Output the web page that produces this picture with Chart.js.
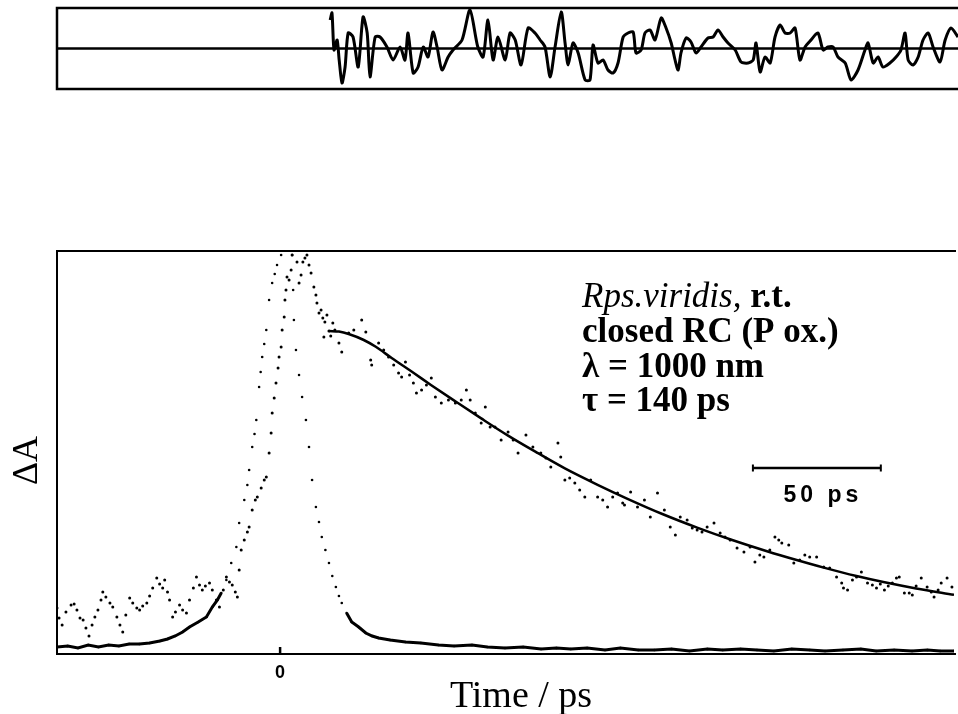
<!DOCTYPE html>
<html>
<head>
<meta charset="utf-8">
<title>Rps. viridis, closed RC, 1000 nm</title>
<script src="https://cdn.jsdelivr.net/npm/chart.js@4.4.1/dist/chart.umd.min.js"></script>
<style>
  body { margin: 0; background: #fff; }
  #resid { position: absolute; left: 0; top: 0; }
  #kin { position: absolute; left: 0; top: 100px; }
</style>
</head>
<body>
<canvas id="resid" width="958" height="100"></canvas>
<canvas id="kin" width="958" height="614"></canvas>
<script>
// time axis in ps, signal in arbitrary units (0..100 covers the frame)
const timeRange = [-87.2, 263.4];
const signalRange = [0, 100.75];
const residRange = [-4.05, 4.05];
const xTicks = [0];
const scaleBar = [184.8, 234.8]; // 50 ps
const scaleBarLevel = 46.5;
const infoLines = ['closed RC (P ox.)', 'λ = 1000 nm', 'τ = 140 ps'];

// [time, residual]
const residuals = [
  [19.1, 2.85], [19.8, 3.55], [20.6, -0.15], [21.8, 0.85], [22.6, -1.15], [23.7, -3.45],
  [24.9, -1.85], [26.1, 1.55], [28.0, 1.15], [30.0, -1.85], [31.9, 3.15], [33.5, 1.55],
  [34.6, -2.85], [36.6, 1.15], [38.5, 1.15], [41.2, 0.15], [43.6, -1.15], [46.3, 0.15],
  [48.2, -1.15], [49.4, 1.55], [51.4, -2.45], [53.3, -1.85], [55.3, 0.15], [57.2, -0.85],
  [59.1, 1.65], [60.7, 0.15], [62.6, -2.15], [65.0, -0.85], [66.9, -0.15], [70.4, 0.85],
  [73.5, 3.85], [76.5, 0.2], [78.6, -0.85], [80.5, 2.85], [82.5, -1.15], [84.4, 1.15],
  [87.2, -1.15], [89.1, 1.55], [91.1, 0.85], [93.4, -1.65], [96.1, 2.05], [98.8, 1.55],
  [100.8, 0.85], [102.7, 0.15], [104.7, -2.85], [106.6, 0.15], [109.0, 3.65], [110.5, 0.55],
  [111.7, -1.65], [113.6, 0.55], [115.6, -0.45], [118.3, -3.15], [120.2, -3.15], [121.4, 0.35],
  [123.3, -1.45], [125.3, -1.15], [127.2, -2.15], [129.2, -2.45], [131.1, -1.45], [133.1, 1.15],
  [135.0, 1.55], [137.0, 1.65], [138.1, -0.45], [140.1, -0.15], [141.6, 1.55], [143.6, 1.85],
  [145.5, 0.85], [147.9, 3.05], [149.8, 2.05], [151.8, 0.55], [153.3, -1.15], [154.5, -2.15],
  [155.6, -0.45], [157.6, 1.05], [159.5, 0.65], [161.5, -0.45], [163.4, 0.15], [166.1, 1.05],
  [168.1, 1.15], [170.0, 1.85], [172.0, 1.15], [173.9, 0.55], [176.7, -0.15], [179.0, -1.35],
  [181.7, -1.45], [183.7, -1.15], [184.8, 0.55], [186.4, -2.35], [188.3, -0.85], [190.3, -1.45],
  [192.2, 1.15], [194.2, 2.35], [196.1, 1.55], [198.1, 1.55], [200.0, 2.05], [201.9, -1.15],
  [203.9, 0.15], [206.2, 0.85], [208.9, 1.55], [210.9, -0.15], [212.8, 0.15], [214.8, 0.15],
  [216.7, -0.85], [219.5, -1.45], [221.8, -3.15], [224.5, -2.15], [227.2, -0.15], [228.4, 0.55],
  [230.4, -1.45], [232.3, -0.85], [234.2, -1.85], [236.9, -1.45], [239.3, -0.85], [241.2, -0.15],
  [242.8, 1.55], [244.0, -1.15], [245.9, -1.65], [247.9, -0.85], [249.8, 0.85], [251.8, 1.55],
  [253.7, 0.15], [256.4, -1.35], [258.4, 0.85], [260.7, 2.05], [263.4, 1.15]
];

// [time, signal] instrument response
const irf = [
  [-87.2, 1.75], [-83, 2.0], [-79, 1.5], [-75, 2.25], [-71, 1.75], [-67, 2.25], [-63, 2.0],
  [-59, 2.5], [-55, 2.5], [-51, 2.75], [-47, 3.25], [-44, 3.75], [-41, 4.5], [-38.1, 5.5],
  [-35.4, 6.75], [-32, 8.0], [-28.8, 9.25], [-26.5, 11.75], [-24.5, 13.5], [-23.0, 15.25],
  [-21.0, 18.5], [-19.1, 22.75], [-17.1, 26.75], [-16.0, 32.75], [-14.0, 38.5], [-12.8, 42.25],
  [-12.1, 46], [-10.9, 51.75], [-10.0, 55], [-9.3, 58.5], [-8.2, 66.75], [-7.6, 70.5],
  [-7.0, 74.25], [-6.2, 77.5], [-5.4, 81], [-4.3, 88.5], [-3.1, 92.75], [-2.1, 95],
  [-1.2, 97.25], [0.4, 99.75], [1.9, 105], [3.5, 107], [4.7, 99.75], [5.1, 91], [5.4, 83.5],
  [6.2, 76], [7.4, 69.75], [8.6, 64.25], [10.1, 58.5], [11.3, 51.75], [12.5, 43.5],
  [14.0, 36.75], [15.2, 33], [16.3, 29.25], [17.7, 26], [19.1, 22.75], [20.4, 19.5],
  [21.8, 16.75], [23.0, 14.5], [24.1, 12.75], [26.0, 10.25], [28.0, 8], [30.7, 6.75],
  [33.5, 5.25], [36, 4.5], [38.5, 4], [43, 3.5], [49, 3], [55, 2.75], [61.9, 2.25], [68, 2.0],
  [75, 2.25], [81, 1.75], [87.9, 1.5], [95, 1.75], [102, 1.25], [108, 1.5], [113.6, 1.25],
  [120, 1.5], [127, 1.0], [133, 1.5], [140, 1.0], [146.3, 1.0], [153, 1.25], [160, 0.75],
  [167, 1.25], [173, 1.0], [180, 1.25], [186.4, 1.0], [193, 0.75], [200, 1.25], [207, 1.0],
  [213, 0.75], [220, 1.0], [227, 1.25], [233, 0.75], [240, 1.0], [247, 0.75], [253, 1.0],
  [258, 0.75], [263.4, 0.75]
];

// [time, signal] measured kinetics
const kinetics = [
  [-87.2, 11.5], [-86.4, 9], [-85.2, 7.25], [-83.7, 10.5], [-81.7, 12.25], [-80.5, 12.5],
  [-79.4, 11], [-78.2, 9], [-77.0, 8.5], [-75.9, 6.5], [-74.7, 4.5], [-73.5, 7.25],
  [-72.4, 9.25], [-71.2, 11], [-70.0, 13.5], [-69.3, 15.5], [-68.1, 14.25], [-66.5, 12.75],
  [-65.4, 11.75], [-63.8, 9.25], [-62.6, 7.25], [-61.5, 5.5], [-60.3, 9.75], [-58.8, 14],
  [-57.6, 12.75], [-56.0, 11.5], [-54.9, 11], [-53.7, 12], [-52.1, 12.75], [-51.0, 14.5],
  [-49.8, 16.5], [-48.2, 19], [-47.1, 17.5], [-45.9, 16.5], [-45.1, 18.5], [-44.0, 15.5],
  [-43.2, 13.5], [-42.0, 9.25], [-40.9, 10.5], [-39.3, 12.25], [-38.1, 11], [-36.6, 10.25],
  [-35.4, 13.5], [-33.9, 16.5], [-32.7, 19.25], [-31.5, 17.25], [-30.4, 16], [-29.2, 17],
  [-27.6, 17.75], [-26.5, 16], [-24.9, 13.5], [-23.7, 11.75], [-22.2, 16], [-21.0, 19.25],
  [-19.8, 18], [-18.7, 17.25], [-17.5, 15.5], [-16.7, 14.25],
  [-16.0, 21], [-15.2, 26], [-14.0, 28.5], [-12.8, 30.5], [-12.1, 31.75], [-10.9, 36],
  [-9.7, 38.5], [-8.9, 39.25], [-7.4, 41.5], [-6.2, 43.5], [-5.4, 44.25], [-4.3, 50.25],
  [-3.5, 55.25], [-3.1, 60.25], [-2.3, 64], [-1.6, 67.75], [-0.8, 71.5], [-0.4, 74.25],
  [0.4, 76.75], [0.8, 81], [1.6, 84.25], [1.9, 88.5], [2.3, 91], [2.7, 94.25], [3.5, 93.5],
  [4.3, 96], [4.7, 99.75], [5.4, 101.5], [6.6, 98], [7.4, 92.75], [8.2, 94.75], [8.9, 98],
  [9.7, 99], [10.5, 99.75], [11.3, 97.25], [12.1, 95.25], [13.2, 91.75], [14.0, 89.75],
  [14.4, 87.75], [15.2, 85.25], [16.0, 86], [16.7, 84], [17.1, 79.25], [17.5, 83],
  [18.3, 84.75], [19.1, 80.75], [19.8, 79.5], [20.6, 82.75], [21.4, 81], [23.0, 77.75],
  [24.1, 75.5], [26.8, 80.25], [28.8, 81], [31.9, 83.5], [33.5, 80.5], [35.4, 73.5],
  [35.8, 72.25], [38.5, 77.75], [40.5, 76], [42.4, 74.25], [44.4, 72.25], [46.3, 70.25],
  [47.5, 69.25], [49.0, 73], [50.6, 69.75], [52.1, 67.75], [53.3, 65.25], [55.3, 66],
  [57.2, 67.25], [59.1, 69], [60.7, 64.25], [63.0, 62.75], [65.8, 63.5], [68.5, 62.75],
  [70.8, 63.5], [72.8, 66], [74.3, 63.5], [76.3, 60.25], [78.6, 57.75], [80.2, 61.75],
  [82.1, 56.75], [84.0, 56.75], [86.4, 53.5], [89.1, 55.5], [91.1, 53.5], [93.0, 50.25],
  [96.1, 54.75], [98.8, 51.75], [101.9, 50.25], [103.9, 49], [105.8, 46.75], [108.6, 52.75],
  [109.7, 49.25], [111.3, 43.5], [113.2, 44], [115.2, 42.75], [117.1, 41], [119.1, 39.25],
  [121.4, 43.5], [124.1, 39.25], [126.1, 38.5], [128.0, 36.75], [130.0, 39.25], [131.9, 40.25],
  [133.9, 37.75], [134.6, 37.25], [137.0, 40.5], [139.7, 36.75], [142.4, 38.5], [144.7, 34.25],
  [147.5, 40.25], [150.2, 36], [152.5, 31.75], [154.5, 29.75], [156.4, 34.25], [159.1, 33.5],
  [161.1, 31.5], [163.0, 31], [164.9, 30.5], [166.9, 31.75], [169.6, 32.75], [172.0, 30.25],
  [173.9, 29.25], [175.9, 28.5], [178.6, 26.5], [181.3, 25.5], [183.7, 26.75], [185.6, 23],
  [187.5, 24.75], [189.1, 24.25], [191.4, 26], [193.4, 29.25], [194.9, 28.5], [196.1, 27.75],
  [198.8, 27.25], [200.8, 22.75], [203.1, 23.5], [205.1, 24.75], [207.0, 24.25], [209.7, 24.25],
  [212.5, 21.75], [214.8, 21.5], [217.5, 19.25], [219.5, 17.75], [220.2, 16.5], [221.8, 16],
  [223.7, 18.5], [225.3, 19.25], [227.2, 20.5], [229.6, 17.75], [231.5, 17.25], [233.1, 16.5],
  [234.6, 17.5], [236.2, 16], [237.7, 17], [239.3, 17.75], [240.9, 19], [242.0, 19.25],
  [244.0, 15.25], [245.9, 15.25], [247.1, 14.75], [248.6, 17], [250.6, 19], [252.9, 16.75],
  [254.5, 15.5], [255.6, 14.25], [257.2, 16], [258.4, 17.75], [260.7, 19], [262.6, 16.75]
];

// [time, signal] single exponential fit, tau = 140 ps
const fit = [
  [19.1, 80.75], [23.0, 80.6], [26.8, 80.0], [32.7, 78.5], [37.4, 76.8], [43.6, 74.0],
  [52.1, 70.3], [59.1, 67.2], [68.9, 63.0], [78.6, 58.9], [89.1, 54.6], [100.8, 50.2],
  [111.3, 46.4], [124.1, 42.3], [135.8, 38.8], [149.4, 35.0], [163.0, 31.6], [176.7, 28.5],
  [190.3, 25.7], [201.9, 23.5], [212.5, 21.6], [225.3, 19.5], [235.8, 18.0], [248.6, 16.4],
  [263.4, 14.8]
];

const toXY = rows => rows.map(([x, y]) => ({ x, y }));

// frame: left, top and bottom edges (right edge is cut off in the original)
const framePlugin = {
  id: 'frame',
  afterDatasetsDraw(chart, args, opts) {
    const { ctx, chartArea: a } = chart;
    ctx.save();
    ctx.strokeStyle = '#000';
    ctx.lineWidth = opts.width || 2;
    ctx.beginPath();
    ctx.moveTo(a.right + 2, a.top);
    ctx.lineTo(a.left, a.top);
    ctx.lineTo(a.left, a.bottom);
    ctx.lineTo(a.right + 2, a.bottom);
    ctx.stroke();
    if (opts.zeroLine) {
      const y0 = chart.scales.y.getPixelForValue(0);
      ctx.beginPath();
      ctx.moveTo(a.left, y0);
      ctx.lineTo(a.right + 2, y0);
      ctx.stroke();
    }
    ctx.restore();
  }
};

const annotatePlugin = {
  id: 'annotate',
  afterDraw(chart) {
    const { ctx, chartArea: a, scales: { x, y } } = chart;
    ctx.save();
    ctx.fillStyle = '#000';
    ctx.strokeStyle = '#000';

    // x ticks, pointing inward
    ctx.lineWidth = 2.5;
    ctx.font = 'bold 18px "Liberation Sans"';
    ctx.textAlign = 'center';
    ctx.textBaseline = 'alphabetic';
    xTicks.forEach(t => {
      const px = x.getPixelForValue(t);
      ctx.beginPath();
      ctx.moveTo(px, a.bottom);
      ctx.lineTo(px, a.bottom - 7);
      ctx.stroke();
      ctx.fillText(String(t), px, a.bottom + 24);
    });

    // axis titles
    ctx.font = '38px "Liberation Serif"';
    ctx.fillText('Time / ps', a.left + 464, a.bottom + 53);
    ctx.save();
    ctx.translate(a.left - 20, (a.top + a.bottom) / 2 + 8);
    ctx.rotate(-Math.PI / 2);
    ctx.font = '36px "Liberation Serif"';
    ctx.fillText('ΔA', 0, 0);
    ctx.restore();

    // sample info
    const tx = a.left + 525;
    const ty = a.top + 56;
    ctx.textAlign = 'left';
    ctx.font = 'italic 35px "Liberation Serif"';
    ctx.fillText('Rps.viridis,', tx, ty);
    const w = ctx.measureText('Rps.viridis,').width;
    ctx.font = 'bold 35px "Liberation Serif"';
    ctx.fillText(' r.t.', tx + w, ty);
    infoLines.forEach((line, i) => {
      ctx.fillText(line, tx, ty + 35 * (i + 1) - (i === 2 ? 1 : 0));
    });

    // 50 ps scale bar
    const x1 = x.getPixelForValue(scaleBar[0]);
    const x2 = x.getPixelForValue(scaleBar[1]);
    const yb = y.getPixelForValue(scaleBarLevel);
    ctx.lineWidth = 2.5;
    ctx.beginPath();
    ctx.moveTo(x1, yb);
    ctx.lineTo(x2, yb);
    ctx.stroke();
    ctx.lineWidth = 2;
    ctx.beginPath();
    ctx.moveTo(x1, yb - 3.5);
    ctx.lineTo(x1, yb + 3.5);
    ctx.moveTo(x2, yb - 3.5);
    ctx.lineTo(x2, yb + 3.5);
    ctx.stroke();
    ctx.textAlign = 'center';
    ctx.font = 'bold 23px "Liberation Sans"';
    ctx.letterSpacing = '4px';
    ctx.fillText('50 ps', (x1 + x2) / 2 + 6, yb + 34);
    ctx.restore();
  }
};

const hiddenScales = (yr) => ({
  x: { type: 'linear', min: timeRange[0], max: timeRange[1], display: false },
  y: { type: 'linear', min: yr[0], max: yr[1], display: false }
});

new Chart(document.getElementById('resid'), {
  type: 'line',
  data: {
    datasets: [{
      label: 'Residuals',
      data: toXY(residuals),
      borderColor: '#000',
      borderWidth: 3,
      borderJoinStyle: 'round',
      pointRadius: 0,
      tension: 0.25,
      clip: 0
    }]
  },
  options: {
    responsive: false,
    animation: false,
    layout: { padding: { left: 57, right: 0, top: 8, bottom: 11 } },
    scales: hiddenScales(residRange),
    plugins: {
      legend: { display: false },
      tooltip: { enabled: false },
      frame: { width: 2.5, zeroLine: true }
    }
  },
  plugins: [framePlugin]
});

new Chart(document.getElementById('kin'), {
  type: 'line',
  data: {
    datasets: [
      {
        label: 'Instrument response',
        data: toXY(irf),
        borderColor: '#000',
        borderWidth: 3,
        pointRadius: 1.3,
        pointBorderWidth: 0,
        pointBackgroundColor: '#000',
        tension: 0,
        clip: 0,
        segment: {
          // steep parts of the trace show as separate dots, flat parts merge into a thick line
          borderColor: c => Math.abs(c.p1.y - c.p0.y) > 2 * Math.abs(c.p1.x - c.p0.x) ? 'rgba(0,0,0,0)' : '#000'
        }
      },
      {
        label: 'Kinetics',
        data: toXY(kinetics),
        showLine: false,
        pointRadius: 1.5,
        pointBorderWidth: 0,
        pointBackgroundColor: '#000',
        clip: 0
      },
      {
        label: 'Fit',
        data: toXY(fit),
        borderColor: '#000',
        borderWidth: 2.5,
        pointRadius: 0,
        cubicInterpolationMode: 'monotone',
        clip: 0
      }
    ]
  },
  options: {
    responsive: false,
    animation: false,
    layout: { padding: { left: 57, right: 0, top: 151, bottom: 60 } },
    scales: hiddenScales(signalRange),
    plugins: {
      legend: { display: false },
      tooltip: { enabled: false },
      frame: { width: 2 }
    }
  },
  plugins: [framePlugin, annotatePlugin]
});
</script>
</body>
</html>
